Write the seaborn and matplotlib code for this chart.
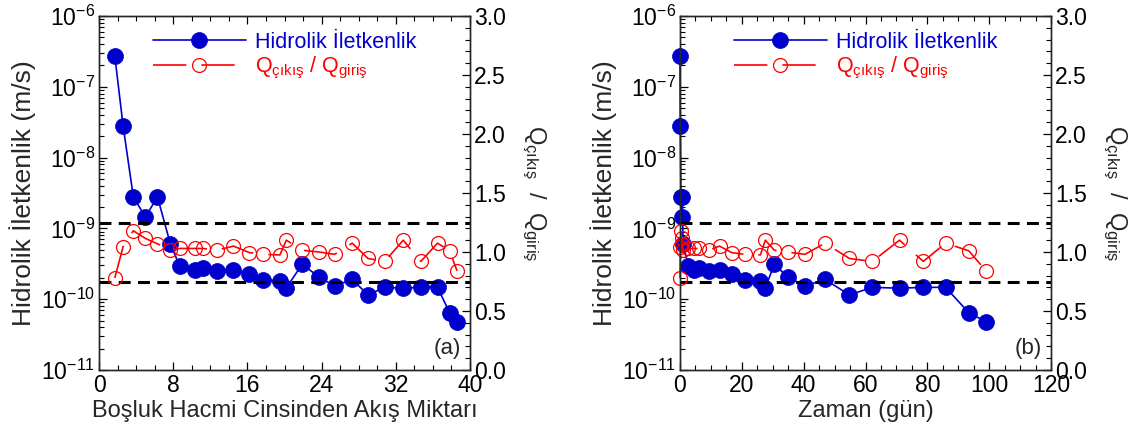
import numpy as np
import pandas as pd
import matplotlib
matplotlib.use("Agg")
import matplotlib.pyplot as plt
import seaborn as sns
from matplotlib.ticker import (MultipleLocator, LogLocator, NullFormatter,
                               LogFormatterMathtext, FormatStrFormatter)

# ---------------- data ----------------
pore_volumes = [1.7, 2.6, 3.7, 5.0, 6.3, 7.7, 8.7, 10.3, 11.2, 12.7, 14.5, 16.2, 17.7,
                19.5, 20.2, 21.9, 23.7, 25.4, 27.3, 29.0, 30.8, 32.8, 34.7, 36.5, 37.8, 38.6]
time_days = [0.0, 0.1, 0.3, 0.5, 0.7, 1.0, 2.7, 4.5, 6.2, 9.3, 12.8, 16.7, 21.0,
             26.0, 27.6, 30.5, 34.8, 40.4, 46.9, 54.8, 62.2, 71.0, 78.7, 85.9, 93.4, 99.0]
conductivity = [2.75e-7, 2.8e-8, 2.8e-9, 1.44e-9, 2.8e-9, 6.0e-10, 2.94e-10, 2.58e-10,
                2.8e-10, 2.5e-10, 2.6e-10, 2.25e-10, 1.87e-10, 1.82e-10, 1.45e-10, 3.1e-10,
                2.08e-10, 1.53e-10, 1.9e-10, 1.15e-10, 1.47e-10, 1.43e-10, 1.47e-10,
                1.47e-10, 6.45e-11, 4.8e-11]
flow_ratio = [0.78, 1.045, 1.18, 1.115, 1.07, 1.015, 1.03, 1.03, 1.03, 1.015, 1.05, 0.995,
              0.98, 0.975, 1.10, 1.015, 1.0, 0.98, 1.075, 0.945, 0.92, 1.10, 0.92, 1.075,
              1.01, 0.84]
ratio_limits = [0.75, 1.25]

label_k = "Hidrolik İletkenlik"
label_q = r"$\mathregular{Q_{çıkış}}$ / $\mathregular{Q_{giriş}}$"
ylabel_left = "Hidrolik İletkenlik (m/s)"
ylabel_right = r"$\mathregular{Q_{çıkış}}$  /  $\mathregular{Q_{giriş}}$"
panels = [
    dict(x=pore_volumes, xlabel="Boşluk Hacmi Cinsinden Akış Miktarı", xmax=40,
         major=8, minor=2, tag="(a)"),
    dict(x=time_days, xlabel="Zaman (gün)", xmax=120, major=20, minor=5, tag="(b)"),
]

# ---------------- style ----------------
sns.set_theme(style="ticks")
plt.rcParams["font.family"] = ["Liberation Sans", "DejaVu Sans"]
plt.rcParams["mathtext.fontset"] = "custom"
plt.rcParams["mathtext.rm"] = "Liberation Sans"
plt.rcParams["mathtext.it"] = "Liberation Sans:italic"
plt.rcParams["axes.linewidth"] = 1.0

BLUE = "#0000CC"
RED = "#FF0000"
FS_TICK = 16.5
FS_XLAB = 17
FS_YLAB = 19
FS_LEG = 15.5
FS_RLAB = 17

fig = plt.figure(figsize=(11.47, 4.34), dpi=100)
lefts = [99 / 1147, 680 / 1147]
W = 371 / 1147
B = 64 / 434
H = 354 / 434

for p, left in zip(panels, lefts):
    ax = fig.add_axes([left, B, W, H])
    df = pd.DataFrame({"x": p["x"], "K": conductivity, "Q": flow_ratio})

    sns.lineplot(data=df, x="x", y="K", ax=ax, color=BLUE, marker="o", markersize=11.5,
                 markeredgecolor=BLUE, markeredgewidth=0.5, linewidth=1.2,
                 sort=False, estimator=None, legend=False)
    ax.set_yscale("log")
    ax.set_ylim(1e-11, 1e-6)
    ax.set_xlim(0, p["xmax"])
    ax.xaxis.set_major_locator(MultipleLocator(p["major"]))
    ax.xaxis.set_minor_locator(MultipleLocator(p["minor"]))
    ax.yaxis.set_major_locator(LogLocator(base=10, numticks=20))
    ax.yaxis.set_minor_locator(LogLocator(base=10, subs=np.arange(2, 10), numticks=20))
    ax.yaxis.set_minor_formatter(NullFormatter())
    ax.yaxis.set_major_formatter(LogFormatterMathtext())
    ax.tick_params(which="both", direction="in", top=True, right=False,
                   labelsize=FS_TICK, color="black", labelcolor="black", pad=3)
    ax.tick_params(which="major", length=6, width=0.9)
    ax.tick_params(which="minor", length=3.5, width=0.8)
    ax.set_xlabel(p["xlabel"], fontsize=FS_XLAB, labelpad=2)
    ax.set_ylabel(ylabel_left, fontsize=FS_YLAB, labelpad=3)

    ax2 = ax.twinx()
    sns.lineplot(data=df, x="x", y="Q", ax=ax2, color=RED, marker="o", markersize=10,
                 markerfacecolor="none", markeredgecolor=RED, markeredgewidth=0.9,
                 linewidth=1.2, sort=False, estimator=None, legend=False)
    ax2.lines[0].set_linestyle((0, (20, 9)))
    for v in ratio_limits:
        ax2.axhline(v, color="black", linewidth=2.2, linestyle=(0, (3.9, 2.4)), zorder=1)
    ax2.set_ylim(0, 3.0)
    ax2.yaxis.set_major_locator(MultipleLocator(0.5))
    ax2.yaxis.set_minor_locator(MultipleLocator(0.1))
    ax2.yaxis.set_major_formatter(FormatStrFormatter("%.1f"))
    ax2.tick_params(which="both", direction="in", right=True, left=False,
                    labelsize=FS_TICK, color="black", labelcolor="black", pad=3)
    ax2.tick_params(which="major", length=6, width=0.9)
    ax2.tick_params(which="minor", length=3.5, width=0.8)
    ax2.set_ylabel(ylabel_right, fontsize=FS_RLAB, rotation=270, va="bottom",
                   labelpad=10)

    for ln in ax.lines + ax2.lines[:1]:
        ln.set_clip_on(False)

    leg = ax2.legend([ax.lines[0], ax2.lines[0]], [label_k, label_q],
                     loc="upper left", bbox_to_anchor=(0.146, 0.955), frameon=False,
                     fontsize=FS_LEG, handlelength=4.3, handletextpad=0.45,
                     labelspacing=0.1, borderpad=0, borderaxespad=0)
    for txt, c in zip(leg.get_texts(), [BLUE, RED]):
        txt.set_color(c)

    ax2.text(0.975, 0.03, p["tag"], transform=ax2.transAxes, ha="right", va="bottom",
             fontsize=16)

fig.savefig("out.png", dpi=100)
